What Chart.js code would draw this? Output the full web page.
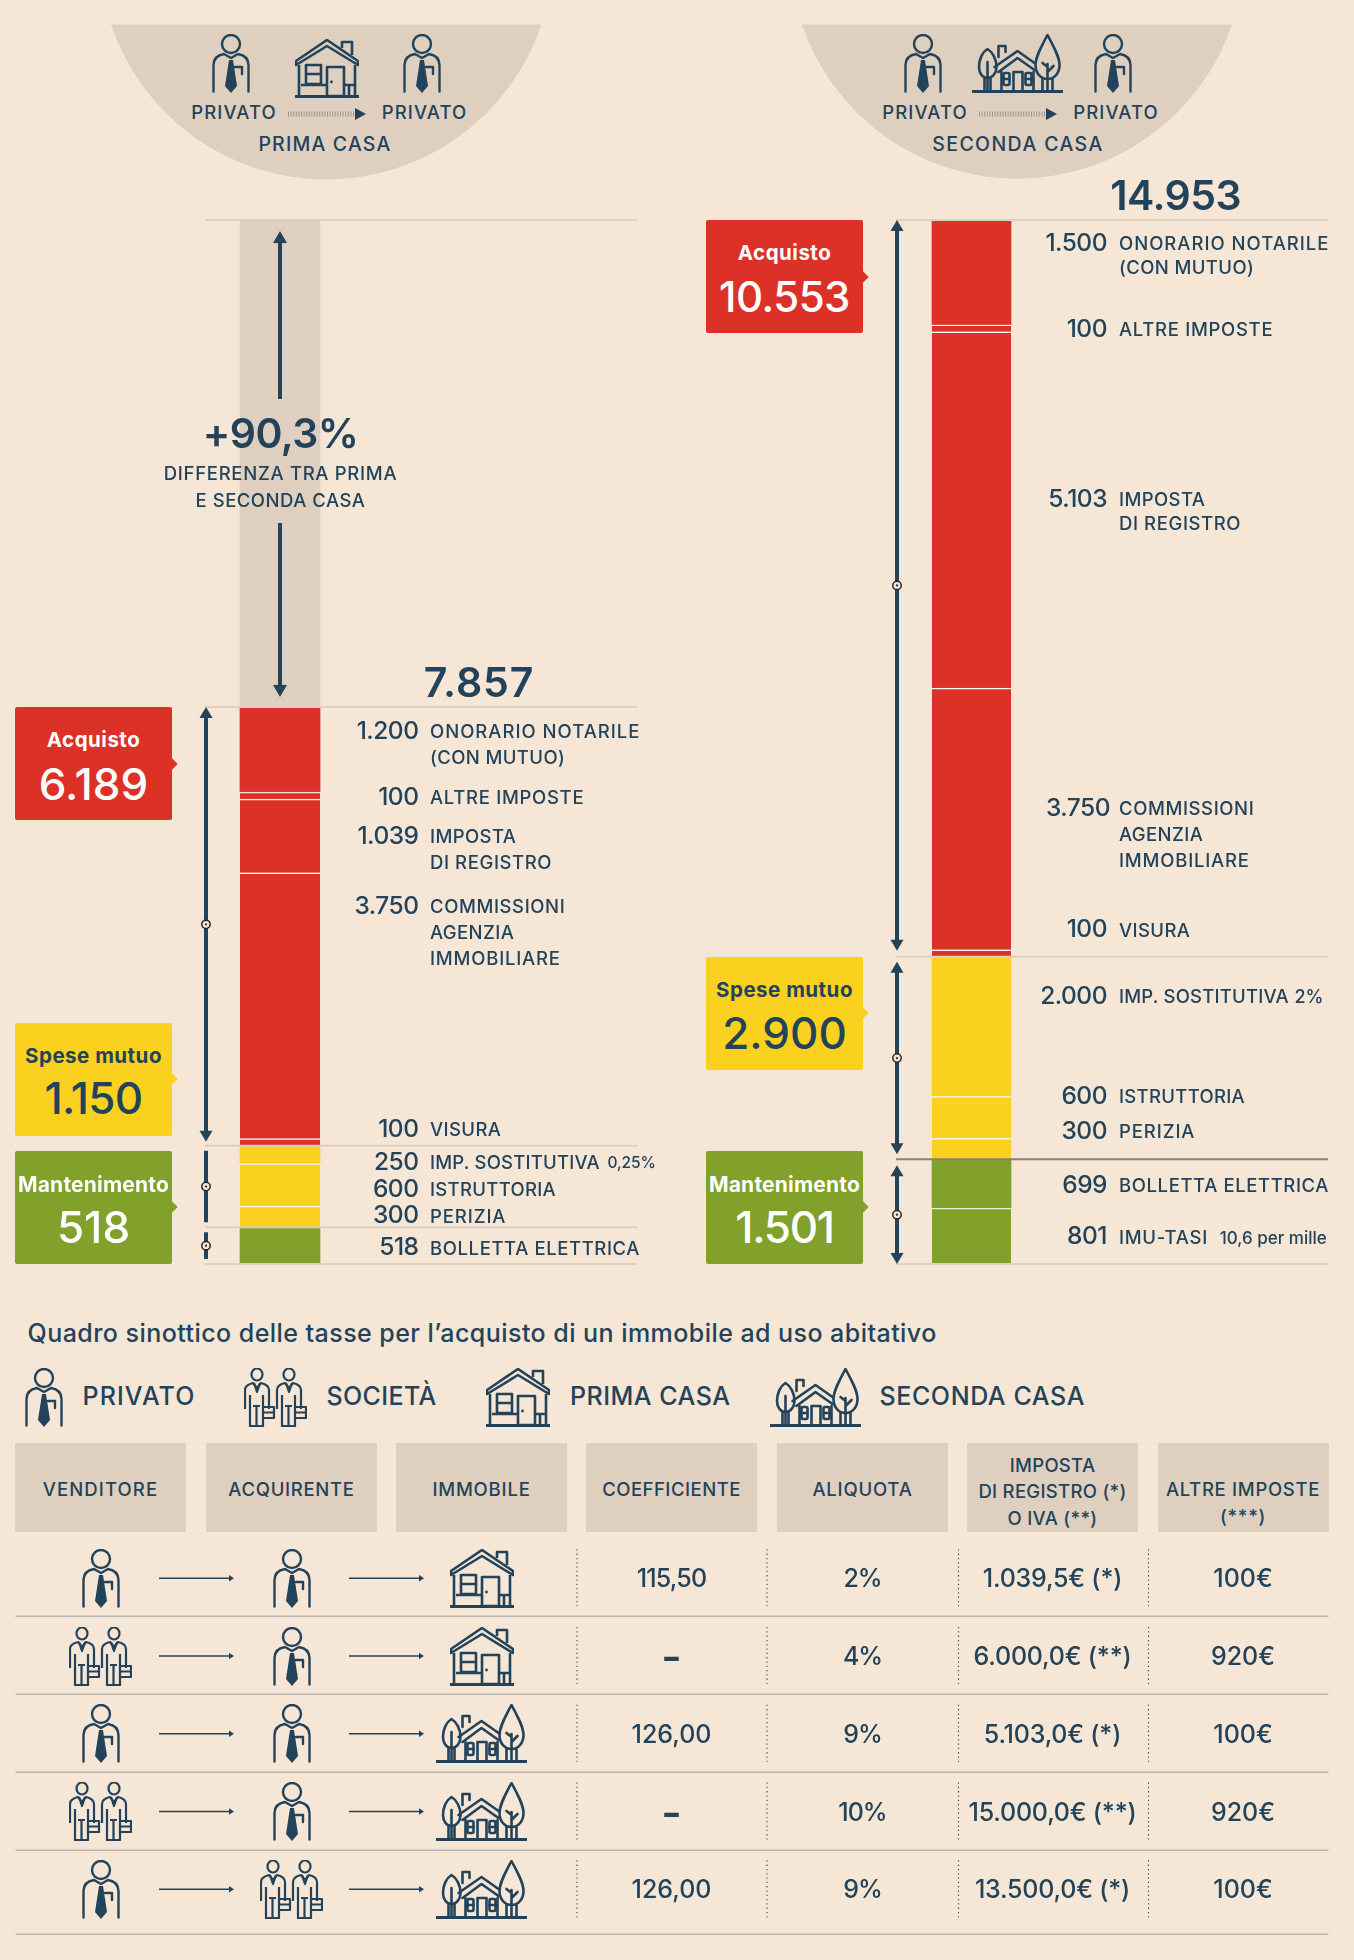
<!DOCTYPE html>
<html lang="it">
<head>
<meta charset="utf-8">
<title>Prima casa e seconda casa</title>
<script src="https://cdn.jsdelivr.net/npm/chart.js@4/dist/chart.umd.min.js"></script>
<style>
  html, body { margin: 0; padding: 0; background: #f5e6d6; }
  #page { position: relative; width: 1354px; height: 1960px; overflow: hidden; background: #f5e6d6;
          font-family: Inter, "Noto Sans", sans-serif; color: #22435a; }
  #page canvas { position: absolute; }
  .t { position: absolute; line-height: 1; white-space: nowrap; }
  .box { position: absolute; border-radius: 2px; }
  .tip { position: absolute; width: 8px; height: 8px; transform: rotate(45deg); }
  .ic { position: absolute; overflow: visible; }
</style>
</head>
<body>
<svg width="0" height="0" style="position:absolute">
  <defs>
    <symbol id="person" viewBox="0 0 38 59">
      <g fill="none" stroke="#22435a" stroke-width="2.4" stroke-linecap="round" stroke-linejoin="round">
        <circle cx="19" cy="10" r="9"/>
        <path d="M1.500 57.500V31C1.500 24 6 21 12 20L19 24 26 20C32 21 36.500 24 36.500 31V57.500"/>
        <path d="M23 33H30V40"/>
      </g>
      <path fill="#22435a" d="M17 26H21L25 52 19 59 13 52Z"/>
    </symbol>
    <symbol id="societa" viewBox="0 0 63 59">
      <g id="socOne" fill="none" stroke="#22435a" stroke-width="2.2" stroke-linejoin="round">
        <ellipse cx="13" cy="6.500" rx="5.500" ry="6"/>
        <path d="M1 41V22C1 18 5 16 9 15L13 20 17 15C21 16 25 18 25 22V41"/>
        <path d="M6 27V58H19V27M12.500 38V58M9 38H16M10 15L13 24 16 15"/>
        <path d="M19 39H30V50H19M19 44.500H30"/>
      </g>
      <use href="#socOne" x="32"/>
    </symbol>
    <symbol id="casa" viewBox="0 0 64 59">
      <g fill="none" stroke="#22435a" stroke-width="2.600" stroke-linejoin="round">
        <path d="M1 22L32 1 63 22V26L32 7 1 26Z"/>
        <path d="M47 9V3H57V16"/>
        <path d="M4 26V57M60 26V57"/>
        <path d="M0 57.500H64" stroke-width="3"/>
        <rect x="11" y="26" width="15" height="19"/>
        <path d="M11 35H26M6 46H32M49 46H60M54 46V57"/>
        <rect x="32" y="28" width="17" height="29"/>
      </g>
      <circle cx="36.500" cy="43" r="1.400" fill="#22435a"/>
    </symbol>
    <symbol id="seconda" viewBox="0 0 90 59">
      <g fill="none" stroke="#22435a" stroke-width="2.600" stroke-linejoin="round" stroke-linecap="round">
        <path d="M15 15C10 18 6.500 25 6.500 33 6.500 39 10 44 15 44 20 44 24 39 24 33 24 25 20 18 15 15Z"/>
        <path d="M15 28V57M12 44V57M18 44V57"/>
        <path d="M75 1C69 12 63 23 63 31 63 39 68 45 75 45 82 45 87 39 87 31 87 23 81 12 75 1Z"/>
        <path d="M75 30V57M70 45V57M80 45V57M75 38L81 32M75 33L70 29"/>
        <path d="M22 33L45 17 62 29M26 38L45 24 62 36"/>
        <path d="M26 23V12H33V18"/>
        <path d="M29 38V57M61 38V57"/>
        <rect x="31" y="39" width="6" height="12" rx="1.500"/>
        <path d="M31 45H37M53 45H59"/>
        <rect x="53" y="39" width="6" height="12" rx="1.500"/>
        <path d="M41 57V38H50V57"/>
      </g>
      <path d="M0 57.500H90" stroke="#22435a" stroke-width="3.200" stroke-linecap="round"/>
    </symbol>
  </defs>
</svg>
<div id="page">
  <canvas id="chartPrima" width="640" height="1070" style="left:0;top:200px"></canvas>
  <canvas id="chartSeconda" width="677" height="1070" style="left:677px;top:200px"></canvas>
</div>
<script>
const navy = "#22435a";
const red = "#dc3126";
const yellow = "#fad11e";
const green = "#82a12a";
const tan = "#dfcfbf";

// Chart values, top to bottom of each bar
const primaLabels = ["Onorario notarile", "Altre imposte", "Imposta di registro", "Commissioni agenzia immobiliare", "Visura",
  "Imp. sostitutiva", "Istruttoria", "Perizia", "Bolletta elettrica"];
const primaValues = [1200, 100, 1039, 3750, 100, 250, 600, 300, 518];
const primaColors = [red, red, red, red, red, yellow, yellow, yellow, green];
const primaTotal = 7857;
const secondaTotal = 14953;
const differenza = secondaTotal - primaTotal;

const secondaLabels = ["Onorario notarile", "Altre imposte", "Imposta di registro", "Commissioni agenzia immobiliare", "Visura",
  "Imp. sostitutiva", "Istruttoria", "Perizia", "Bolletta elettrica", "IMU-TASI"];
const secondaValues = [1500, 100, 5103, 3750, 100, 2000, 600, 300, 699, 801];
const secondaColors = [red, red, red, red, red, yellow, yellow, yellow, green, green];

const groupNames = ["Acquisto", "Spese mutuo", "Mantenimento"];
const primaGroupTotals = [6189, 1150, 518];
const secondaGroupTotals = [10553, 2900, 1501];

const fmt = v => String(v).replace(/\B(?=(\d{3})+$)/g, ".");
const page = document.getElementById("page");

function text(x, y, str, size, opts = {}) {
  const el = document.createElement("div");
  el.className = "t";
  el.textContent = str;
  const dx = opts.align === "right" ? "-100%" : opts.align === "center" ? "-50%" : "0";
  el.style.cssText = `left:${x}px;top:${y}px;font-size:${size}px;font-weight:${opts.weight || 500};` +
    `color:${opts.color || navy};letter-spacing:${opts.ls === undefined ? 0.3 : opts.ls}px;transform:translate(${dx},-50%)`;
  page.appendChild(el);
  return el;
}

function rawSvg(x, y, w, h, inner) {
  const svg = document.createElementNS("http://www.w3.org/2000/svg", "svg");
  svg.setAttribute("class", "ic");
  svg.setAttribute("width", w);
  svg.setAttribute("height", h);
  svg.style.left = x + "px";
  svg.style.top = y + "px";
  svg.innerHTML = inner;
  page.appendChild(svg);
}

function icon(name, x, y, w, h) {
  rawSvg(x, y, w, h, `<use href="#${name}"/>`);
}

function head(c, x, y, dir, halfW, len) {
  c.beginPath();
  c.moveTo(x, y);
  c.lineTo(x - halfW, y + dir * len);
  c.lineTo(x + halfW, y + dir * len);
  c.closePath();
  c.fillStyle = navy;
  c.fill();
}

// rules, brackets and the circle markers all go through the y scale
const overlay = {
  id: "overlay",
  afterDatasetsDraw(chart, args, o) {
    const c = chart.ctx;
    const y = chart.scales.y;
    const top = chart.chartArea.top;
    o.rules.forEach(r => {
      c.fillStyle = r.color || tan;
      const py = r.value === null ? top : y.getPixelForValue(r.value);
      c.fillRect(o.axisX - 1, py - 1, o.ruleEnd - o.axisX + 1, 2);
    });
    o.brackets.forEach(b => {
      const y0 = y.getPixelForValue(b.from) + b.padTop;
      const y1 = y.getPixelForValue(b.to) - b.padBottom;
      c.fillStyle = navy;
      c.fillRect(o.axisX - 2, y0 + (b.heads ? 6 : 0), 4, y1 - y0 - (b.heads ? 12 : 0));
      if (b.heads) {
        head(c, o.axisX, y0, 1, 6.5, 11);
        head(c, o.axisX, y1, -1, 6.5, 11);
      }
      const mid = (y0 + y1) / 2;
      c.beginPath();
      c.arc(o.axisX, mid, 4.2, 0, Math.PI * 2);
      c.fillStyle = "#f5e6d6";
      c.fill();
      c.lineWidth = 1.5;
      c.strokeStyle = "#26262a";
      c.stroke();
      c.beginPath();
      c.arc(o.axisX, mid, 1.1, 0, Math.PI * 2);
      c.fillStyle = "#26262a";
      c.fill();
    });
    if (o.difference) {
      const cx = chart.scales.x.getPixelForValue(0);
      const bottom = y.getPixelForValue(primaTotal);
      c.fillStyle = navy;
      c.fillRect(cx - 2, top + 17, 4, 162);
      head(c, cx, top + 11, 1, 7, 12);
      c.fillRect(cx - 2, top + 303, 4, bottom - top - 325);
      head(c, cx, bottom - 10, -1, 7, 12);
    }
  },
};

function stackedBar(id, category, values, colors, groupStarts, extra, yMax, pad, thickness, overlayOpts) {
  const datasets = values.map((v, i) => ({
    label: String(i),
    data: [v],
    backgroundColor: colors[i],
    borderColor: "rgba(255,255,255,0.7)",
    borderWidth: { top: groupStarts.includes(i) ? 0 : 1.5, bottom: 0, left: 0, right: 0 },
    borderSkipped: false,
    stack: "s",
    barThickness: thickness,
  })).reverse();
  if (extra) {
    datasets.push({ label: "Differenza", data: [extra], backgroundColor: tan, borderWidth: 0, stack: "s", barThickness: thickness });
  }
  return new Chart(document.getElementById(id), {
    type: "bar",
    data: { labels: [category], datasets },
    options: {
      responsive: false,
      animation: false,
      layout: { padding: pad },
      plugins: { legend: { display: false }, tooltip: { enabled: false }, overlay: overlayOpts },
      scales: {
        x: { stacked: true, display: false, grid: { display: false } },
        y: { stacked: true, display: false, min: 0, max: yMax, grid: { display: false } },
      },
    },
    plugins: [overlay],
  });
}

stackedBar("chartPrima", "Prima casa", primaValues, primaColors, [0, 5, 8], differenza, 14726,
  { top: 20, bottom: 6, left: 0, right: 80 }, 80, {
    axisX: 206, ruleEnd: 637, difference: true,
    rules: [{ value: null }, { value: primaTotal }, { value: 1668 }, { value: 518 }, { value: 0 }],
    brackets: [
      { from: primaTotal, to: 1668, padTop: 0, padBottom: 4, heads: true },
      { from: 1668, to: 518, padTop: 5, padBottom: 5, heads: false },
      { from: 518, to: 0, padTop: 5, padBottom: 5, heads: false },
    ],
  });

stackedBar("chartSeconda", "Seconda casa", secondaValues, secondaColors, [0, 5, 8], 0, secondaTotal,
  { top: 20, bottom: 6, left: 0, right: 88 }, 79, {
    axisX: 220, ruleEnd: 651, difference: false,
    rules: [{ value: secondaTotal }, { value: 4400 }, { value: 1500, color: "#8f7f6f" }, { value: 0 }],
    brackets: [
      { from: secondaTotal, to: 4400, padTop: 0, padBottom: 6, heads: true },
      { from: 4400, to: 1500, padTop: 5, padBottom: 5, heads: true },
      { from: 1500, to: 0, padTop: 6, padBottom: 0, heads: true },
    ],
  });

// half discs at the top
rawSvg(0, 0, 1354, 200,
  `<path fill="${tan}" d="M111 24.500A227 227 0 0 0 541.500 24.500Z"/><path fill="${tan}" d="M802 24.500A227 227 0 0 0 1232 24.500Z"/>` +
  `<path stroke="#9c958d" stroke-width="5" stroke-dasharray="1 1.600" d="M288 114H354M979 114H1045"/>` +
  `<path fill="${navy}" d="M355 108L366 114 355 120ZM1046 108L1057 114 1046 120Z"/>`);
icon("person", 212, 33.5, 38, 59);
icon("casa", 294.5, 39, 64, 59);
icon("person", 403, 33.5, 38, 59);
text(234, 111.5, "PRIVATO", 18.5, { align: "center", ls: 1.1 });
text(424.500, 111.5, "PRIVATO", 18.5, { align: "center", ls: 1.1 });
text(325, 144.5, "PRIMA CASA", 19.500, { align: "center", ls: 1.2 });
icon("person", 904, 33.5, 38, 59);
icon("seconda", 972, 33.5, 91, 59);
icon("person", 1094, 33.5, 38, 59);
text(925, 111.5, "PRIVATO", 18.5, { align: "center", ls: 1.1 });
text(1116, 111.5, "PRIVATO", 18.5, { align: "center", ls: 1.1 });
text(1018, 144.5, "SECONDA CASA", 19.500, { align: "center", ls: 1.4 });

// side boxes
function sideBox(x, y, h, color, tipY, name, total, nameY, totalY, fg, size, ls) {
  const b = document.createElement("div");
  b.className = "box";
  b.style.cssText = `left:${x}px;top:${y}px;width:157px;height:${h}px;background:${color}`;
  page.appendChild(b);
  const tip = document.createElement("div");
  tip.className = "tip";
  tip.style.cssText = `left:${x + 153}px;top:${tipY - 4}px;background:${color}`;
  page.appendChild(tip);
  const cx = x + 78.5;
  text(cx, nameY, name, name === "Mantenimento" ? 21 : 20.500, { align: "center", weight: 700, color: fg, ls: name === "Mantenimento" ? 0.2 : 0.5 });
  text(cx, totalY, fmt(total), size, { align: "center", weight: 500, color: fg, ls });
}
sideBox(15, 707, 113, red, 763.5, groupNames[0], primaGroupTotals[0], 739.8, 783.8, "#fff", 44, 0);
sideBox(15, 1022.5, 113.5, yellow, 1079, groupNames[1], primaGroupTotals[1], 1056, 1098, navy, 44, -0.7);
sideBox(15, 1151, 113, green, 1207, groupNames[2], primaGroupTotals[2], 1183.7, 1226.5, "#fff", 44, 0);
sideBox(706, 220, 113, red, 277, groupNames[0], secondaGroupTotals[0], 252.7, 297, "#fff", 42, -0.5);
sideBox(706, 956.5, 113, yellow, 1013, groupNames[1], secondaGroupTotals[1], 990.4, 1032.5, navy, 44, 0);
sideBox(706, 1151, 113, green, 1207, groupNames[2], secondaGroupTotals[2], 1183.7, 1226.5, "#fff", 44, -1.3);

// totals and the difference note
text(479, 681.5, fmt(primaTotal), 41, { align: "center", weight: 600, ls: 0.9 });
text(1175.7, 194.6, fmt(secondaTotal), 41, { align: "center", weight: 600, ls: -0.5 });
text(280.5, 433, "+90,3%", 41, { align: "center", weight: 600, ls: -0.6 });
text(280.5, 473, "DIFFERENZA TRA PRIMA", 18.5, { align: "center", ls: 0.7 });
text(280.5, 500.4, "E SECONDA CASA", 18.5, { align: "center", ls: 0.5 });

// value labels beside the bars
const primaTextLines = [["ONORARIO NOTARILE", "(CON MUTUO)"], ["ALTRE IMPOSTE"], ["IMPOSTA", "DI REGISTRO"],
  ["COMMISSIONI", "AGENZIA", "IMMOBILIARE"], ["VISURA"], ["IMP. SOSTITUTIVA"], ["ISTRUTTORIA"], ["PERIZIA"], ["BOLLETTA ELETTRICA"]];
const primaRowY = [730, 795.6, 834.7, 904.7, 1127.8, 1160.7, 1187.5, 1214.3, 1246.4];
const secondaTextLines = [["ONORARIO NOTARILE", "(CON MUTUO)"], ["ALTRE IMPOSTE"], ["IMPOSTA", "DI REGISTRO"],
  ["COMMISSIONI", "AGENZIA", "IMMOBILIARE"], ["VISURA"], ["IMP. SOSTITUTIVA"], ["ISTRUTTORIA"], ["PERIZIA"], ["BOLLETTA ELETTRICA"], ["IMU-TASI"]];
const secondaRowY = [241.5, 328, 498, 806.7, 928.4, 994.6, 1094.5, 1130, 1183.7, 1235.3];
const secondaLineSteps = [24, 24, 24, 26, 24, 24, 24, 24, 24, 24];
const labelSpacing = { "ONORARIO NOTARILE": 1, "ALTRE IMPOSTE": 0.7, "DI REGISTRO": 0.6, "COMMISSIONI": 0.6, "IMMOBILIARE": 0.8,
  "IMP. SOSTITUTIVA": 0.2, "ISTRUTTORIA": 0.3, "PERIZIA": 0.9, "BOLLETTA ELETTRICA": 0.6, "IMU-TASI": 0.7 };

function valueLabels(values, lines, rowY, numX, textX, lineStep, numShift) {
  values.forEach((v, i) => {
    text(numX + (numShift[i] || 0), rowY[i], fmt(v), 24.5, { align: "right", ls: -0.5 });
    lines[i].forEach((ln, j) => {
      const ls = labelSpacing[ln] === undefined ? 0.4 : labelSpacing[ln];
      const step = Array.isArray(lineStep) ? lineStep[i] : lineStep;
      text(textX, rowY[i] + 1.3 + j * step, ln, 18.5, { ls });
    });
  });
}
valueLabels(primaValues, primaTextLines, primaRowY, 418.5, 430, 26, {});
valueLabels(secondaValues, secondaTextLines, secondaRowY, 1107, 1119, secondaLineSteps, { 3: 3 });
text(607.5, 1163, "0,25%", 15.5, { ls: -0.1 });
text(1294.5, 996.5, "2%", 18, { ls: 0 });
text(1219.7, 1237.6, "10,6 per mille", 17, { ls: 0 });

// synoptic table
text(27.5, 1332.5, "Quadro sinottico delle tasse per l\u2019acquisto di un immobile ad uso abitativo", 25, { ls: 0.45, weight: 450 });
icon("person", 25, 1367.7, 38, 59);
text(82.5, 1395.5, "PRIVATO", 25, { ls: 1.1 });
icon("societa", 244, 1367.7, 63, 59);
text(326.5, 1395.5, "SOCIET\u00c0", 25, { ls: 0.4 });
icon("casa", 485.5, 1367.7, 64, 59);
text(570, 1395.5, "PRIMA CASA", 25, { ls: 0.5 });
icon("seconda", 770, 1367.7, 91, 59);
text(879.5, 1395.5, "SECONDA CASA", 25, { ls: 0.6 });

const headers = [["VENDITORE"], ["ACQUIRENTE"], ["IMMOBILE"], ["COEFFICIENTE"], ["ALIQUOTA"], ["IMPOSTA", "DI REGISTRO (*)", "O IVA (**)"], ["ALTRE IMPOSTE", "(***)"]];
const headerSpacing = [1.1, 0.7, 0.8, 0.5, 0.8, 0.3, 0.7];
const venditori = ["person", "societa", "person", "societa", "person"];
const acquirenti = ["person", "person", "person", "person", "societa"];
const immobili = ["casa", "casa", "seconda", "seconda", "seconda"];
const coefficienti = ["115,50", "\u2013", "126,00", "\u2013", "126,00"];
const aliquote = ["2%", "4%", "9%", "10%", "9%"];
const imposte = ["1.039,5\u20ac (*)", "6.000,0\u20ac (**)", "5.103,0\u20ac (*)", "15.000,0\u20ac (**)", "13.500,0\u20ac (*)"];
const altreImposte = ["100\u20ac", "920\u20ac", "100\u20ac", "920\u20ac", "100\u20ac"];

const colLeft = [15, 206, 396, 586, 777, 967, 1157.5];
const colCenter = colLeft.map(x => x + 85.5);
const headerLineY = { 1: [1488.7], 2: [1488.7, 1515.7], 3: [1464.7, 1490.7, 1517.7] };
headers.forEach((lines, i) => {
  const b = document.createElement("div");
  b.className = "box";
  b.style.cssText = `left:${colLeft[i]}px;top:1443.3px;width:171px;height:89px;background:${tan};border-radius:0`;
  page.appendChild(b);
  lines.forEach((ln, j) => text(colCenter[i], headerLineY[lines.length][j], ln, 18.500, { align: "center", ls: headerSpacing[i] }));
});

const rowCenter = [1578.3, 1656, 1733.8, 1811.5, 1889.3];
const ruleY = [1616.3, 1694.3, 1772.3, 1850.3, 1934.3];
const iconSize = { person: [38, 59], societa: [63, 59], casa: [64, 59], seconda: [91, 59] };
function cellIcon(name, cx, cy) {
  const [w, h] = iconSize[name];
  icon(name, cx - w / 2, cy - h / 2, w, h);
}
rowCenter.forEach((cy, r) => {
  cellIcon(venditori[r], colCenter[0], cy);
  cellIcon(acquirenti[r], colCenter[1], cy);
  cellIcon(immobili[r], colCenter[2], cy);
  const arrows = [159, 349].map(x =>
    `<path stroke="${navy}" stroke-width="1.6" d="M${x} ${cy}H${x + 71}"/><path fill="${navy}" d="M${x + 70} ${cy - 3.2}L${x + 75} ${cy} ${x + 70} ${cy + 3.2}Z"/>`).join("");
  const dots = [577, 767, 958.5, 1148.5].map(x =>
    `<path stroke="#3d4a50" stroke-width="1.1" stroke-dasharray="1.300 3" d="M${x} ${cy - 29}V${cy + 28}"/>`).join("");
  rawSvg(0, 0, 1354, 1960, arrows + dots +
    `<path stroke="#b9b5b0" stroke-width="1.5" d="M15.5 ${ruleY[r]}H1328.5"/>`);
  const isDash = coefficienti[r] === "\u2013";
  const coefLs = coefficienti[r] === "115,50" ? -0.8 : 0;
  text(colCenter[3], cy, coefficienti[r], isDash ? 29 : 25, { align: "center", ls: coefLs, weight: isDash ? 900 : 500 });
  text(colCenter[4], cy, aliquote[r], 25, { align: "center", ls: -1 });
  text(colCenter[5], cy, imposte[r], 25, { align: "center", ls: -0.2 });
  text(colCenter[6], cy, altreImposte[r], 25, { align: "center", ls: 0 });
});
</script>
</body>
</html>
